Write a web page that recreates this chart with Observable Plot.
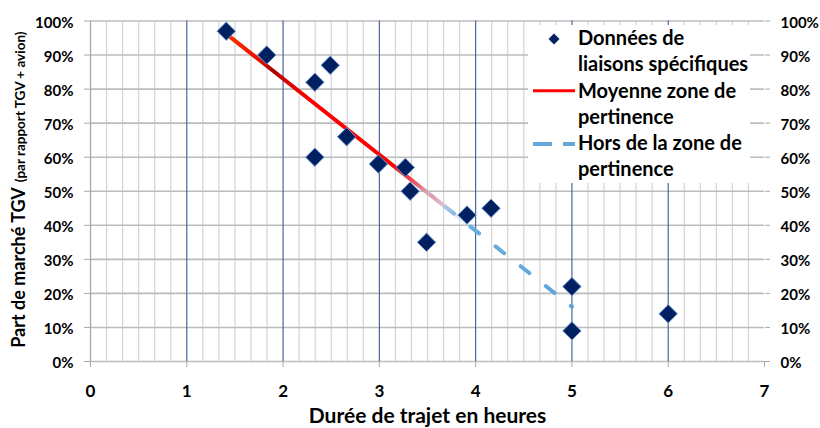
<!DOCTYPE html>
<html><head><meta charset="utf-8">
<script src="https://cdn.jsdelivr.net/npm/d3@7"></script>
<script src="https://cdn.jsdelivr.net/npm/@observablehq/plot@0.6"></script>
<style>
body{margin:0;background:#fff;font-family:Lato, sans-serif;}
#wrap{position:relative;width:820px;height:428px;overflow:hidden;}
#legend{position:absolute;left:528px;top:25px;width:222px;height:158px;background:#fff;}
#legend .txt{position:absolute;left:50px;top:-0.8px;font-weight:bold;font-size:20px;line-height:26.2px;color:#000;white-space:nowrap;}
#legend svg{position:absolute;left:0;top:0;}
</style></head><body>
<div id="wrap"><div id="chart"></div><div id="legend"></div></div>
<script>
// Data: market share of TGV (vs TGV + plane) by travel time in hours
const hours  = [1.41, 1.83, 2.33, 2.49, 2.33, 2.66, 2.99, 3.27, 3.32, 3.49, 3.91, 4.16, 5.0, 5.0, 6.0];
const shares = [0.97, 0.90, 0.82, 0.87, 0.60, 0.66, 0.58, 0.57, 0.50, 0.35, 0.43, 0.45, 0.22, 0.09, 0.14];
// Trend line (Moyenne zone de pertinence -> Hors de la zone de pertinence)
const trendHours  = [1.41, 5.0];
const trendShares = [0.962, 0.161];
const xTicks = [0, 1, 2, 3, 4, 5, 6, 7];
const majorV = [1, 2, 3, 4, 5, 6];
const yTicks = [0, 0.1, 0.2, 0.3, 0.4, 0.5, 0.6, 0.7, 0.8, 0.9, 1.0];
const legendLines = [["Données de", "liaisons spécifiques"], ["Moyenne zone de", "pertinence"], ["Hors de la zone de", "pertinence"]];
const xTitle = "Durée de trajet en heures";
const yTitleMain = "Part de marché TGV";
const yTitleSub = "(par rapport TGV + avion)";

const points = hours.map((h, i) => ({h, s: shares[i]}));
const trend = trendHours.map((h, i) => ({h, s: trendShares[i]}));
const minorV = d3.range(0, 42).map(i => i / 6).filter((v, i) => i % 6 !== 0);
const pct = d3.format(".0%");

const chart = Plot.plot({
  width: 820, height: 428,
  marginLeft: 90, marginRight: 56, marginTop: 20.5, marginBottom: 67,
  style: {fontFamily: "Lato, sans-serif", background: "#fff", color: "#000"},
  x: {domain: [0, 7]},
  y: {domain: [0, 1]},
  marks: [
    Plot.ruleX(minorV, {stroke: "#d4d4d4", strokeWidth: 1.2}),
    Plot.ruleY(yTicks, {stroke: "#bcbcbc", strokeWidth: 1.6}),
    Plot.ruleX(majorV, {stroke: "#3d5a95", strokeWidth: 1.1}),
    Plot.ruleX([0], {stroke: "#a8a8a8", strokeWidth: 1.3}),
    // axes
    Plot.axisX(xTicks, {anchor: "bottom", tickSize: 6, tickPadding: 17, stroke: "#a8a8a8", fill: "#000", fontSize: 17, fontWeight: "bold", label: null}),
    Plot.axisY(yTicks, {anchor: "left", tickSize: 6, stroke: "#a8a8a8", fill: "none", label: null, tickFormat: pct}),
    Plot.axisY(yTicks, {anchor: "left", tickSize: 6, tickPadding: 11, stroke: "none", fill: "#000", fontSize: 15, fontWeight: "bold", label: null, tickFormat: pct, dy: 2}),
    Plot.axisY(yTicks, {anchor: "right", tickSize: 5, stroke: "#a8a8a8", fill: "none", label: null, tickFormat: pct}),
    Plot.axisY(yTicks, {anchor: "right", tickSize: 5, tickPadding: 11, stroke: "none", fill: "#000", fontSize: 15, fontWeight: "bold", label: null, tickFormat: pct, dy: 2}),
    // trend lines
    Plot.line(trend, {x: "h", y: "s", stroke: "url(#redGrad)", strokeWidth: 4, strokeLinecap: "round"}),
    Plot.line(trend, {x: "h", y: "s", stroke: "url(#blueGrad)", strokeWidth: 4, strokeLinecap: "round", strokeDasharray: "11,21", strokeDashoffset: 9}),
    // data points
    Plot.dot(points, {x: "h", y: "s", symbol: "diamond2", r: 8.3, fill: "#002060", stroke: "#7097d0", strokeWidth: 1}),
    // titles
    Plot.text([xTitle], {text: d => d, frameAnchor: "bottom", lineAnchor: "bottom", dy: 61.5, fontSize: 21, fontWeight: "bold", fill: "#000"}),
    Plot.text([yTitleMain], {text: d => d, frameAnchor: "left", rotate: -90, textAnchor: "start", lineAnchor: "bottom", dx: -66, dy: 156.5, fontSize: 18, fontWeight: "bold", fill: "#000"}),
    Plot.text([yTitleSub], {text: d => d, frameAnchor: "left", rotate: -90, textAnchor: "start", lineAnchor: "bottom", dx: -66, dy: -9, fontSize: 13.5, fontWeight: "bold", fill: "#000"})
  ]
});

// gradients along the trend line, placed with the chart's own scales
const sx = chart.scale("x"), sy = chart.scale("y");
const gx1 = sx.apply(trendHours[0]), gx2 = sx.apply(trendHours[1]);
const gy1 = sy.apply(trendShares[0]), gy2 = sy.apply(trendShares[1]);
const t = h => (h - trendHours[0]) / (trendHours[1] - trendHours[0]);
const defs = d3.select(chart).insert("defs", ":first-child");
function grad(id, stops) {
  const g = defs.append("linearGradient").attr("id", id).attr("gradientUnits", "userSpaceOnUse")
    .attr("x1", gx1).attr("y1", gy1).attr("x2", gx2).attr("y2", gy2);
  stops.forEach(([h, c, o]) => g.append("stop").attr("offset", t(h)).attr("stop-color", c).attr("stop-opacity", o));
}
grad("redGrad", [
  [1.41, "#ff3300", 1], [1.72, "#f01000", 1], [1.9, "#a80000", 1], [2.05, "#dd0000", 1],
  [2.3, "#ff0000", 1], [3.15, "#ff0000", 1], [3.45, "#e07a8a", 1], [3.75, "#dcdcf0", 1], [3.95, "#e8e8f5", 0]
]);
grad("blueGrad", [
  [3.4, "#c8d8ee", 0], [3.6, "#c0d4ec", 0.8], [3.85, "#6aaede", 1], [5.0, "#5ea4d8", 1]
]);
document.getElementById("chart").appendChild(chart);

// legend
const lg = document.getElementById("legend");
const sw = d3.create("svg").attr("width", 222).attr("height", 158);
sw.append("polygon").attr("points", "26,8.5 31.5,14 26,19.5 20.5,14").attr("fill", "#002060");
sw.append("line").attr("x1", 5).attr("x2", 47).attr("y1", 65.7).attr("y2", 65.7).attr("stroke", "#ff0000").attr("stroke-width", 3);
sw.append("line").attr("x1", 5).attr("x2", 24).attr("y1", 119).attr("y2", 119).attr("stroke", "#65a9dc").attr("stroke-width", 4);
sw.append("line").attr("x1", 35).attr("x2", 47).attr("y1", 119).attr("y2", 119).attr("stroke", "#65a9dc").attr("stroke-width", 4);
lg.appendChild(sw.node());
const txt = document.createElement("div");
txt.className = "txt";
txt.innerHTML = legendLines.flat().map(s => `<div>${s}</div>`).join("");
lg.appendChild(txt);
</script></body></html>
